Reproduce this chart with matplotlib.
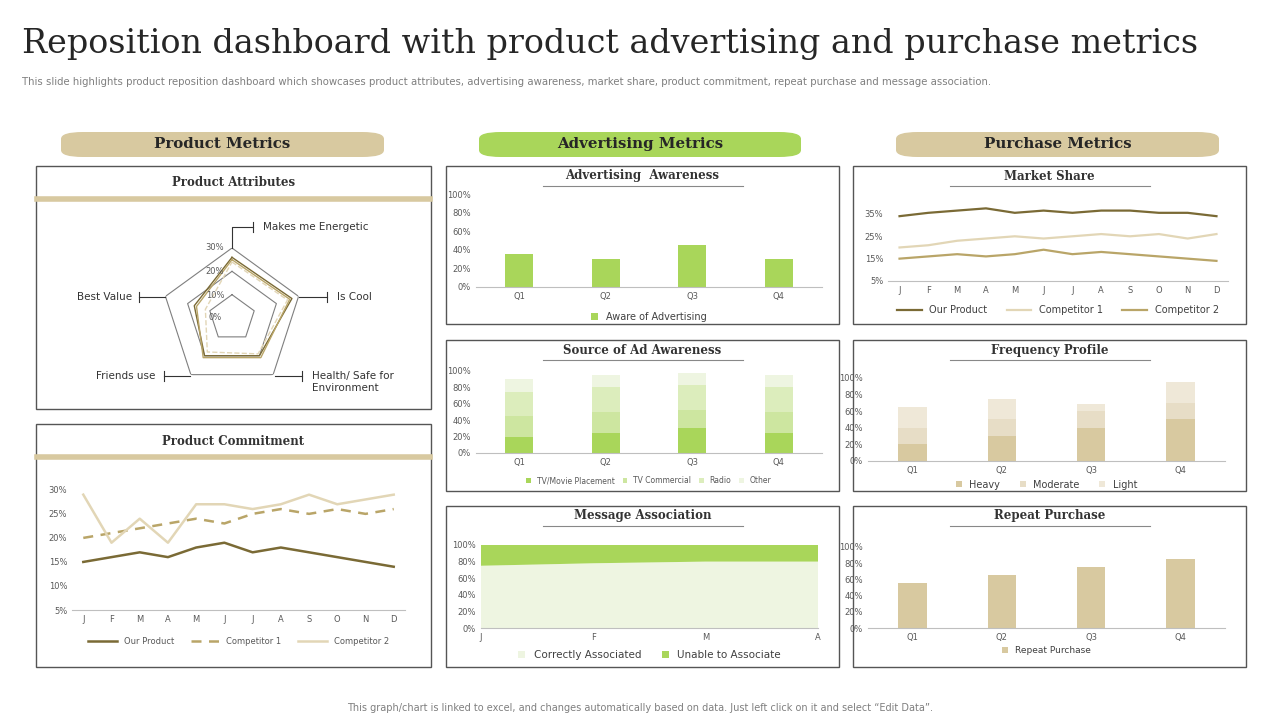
import numpy as np
import matplotlib.pyplot as plt
from matplotlib.patches import FancyBboxPatch, Rectangle

W, H = 1280, 720

months = ['J', 'F', 'M', 'A', 'M', 'J', 'J', 'A', 'S', 'O', 'N', 'D']
quarters = ['Q1', 'Q2', 'Q3', 'Q4']

attr_labels = ['Makes me Energetic', 'Is Cool', 'Health/ Safe for\nEnvironment', 'Friends use', 'Best Value']
attr_a = [26, 27, 20, 20, 17]
attr_b = [25, 26, 21, 21, 16]
attr_c = [24, 25, 19, 18, 12]

commit_our = [15, 16, 17, 16, 18, 19, 17, 18, 17, 16, 15, 14]
commit_c1 = [20, 21, 22, 23, 24, 23, 25, 26, 25, 26, 25, 26]
commit_c2 = [29, 19, 24, 19, 27, 27, 26, 27, 29, 27, 28, 29]

aware = [35, 30, 45, 30]

src_tv_movie = [20, 25, 30, 25]
src_tv_comm = [25, 25, 23, 25]
src_radio = [30, 30, 30, 30]
src_other = [15, 15, 15, 15]

msg_months = ['J', 'F', 'M', 'A']
msg_correct = [75, 78, 80, 80]
msg_unable = [25, 22, 20, 20]

share_our = [34, 35.5, 36.5, 37.5, 35.5, 36.5, 35.5, 36.5, 36.5, 35.5, 35.5, 34]
share_c1 = [20, 21, 23, 24, 25, 24, 25, 26, 25, 26, 24, 26]
share_c2 = [15, 16, 17, 16, 17, 19, 17, 18, 17, 16, 15, 14]

freq_heavy = [20, 30, 40, 50]
freq_moderate = [20, 20, 20, 20]
freq_light = [25, 25, 9, 25]

repeat = [55, 65, 75, 85]

GREEN = '#a9d65a'
TAN = '#d8c9a0'
DARK = '#7a6a35'
LIGHTTAN = '#e2d6b6'
MIDTAN = '#b9a568'
GRAY = '#595959'

fig = plt.figure(figsize=(12.8, 7.2), dpi=100)


def rect(x0, y0, x1, y1):
    return [x0 / W, 1 - y1 / H, (x1 - x0) / W, (y1 - y0) / H]


def fx(x):
    return x / W


def fy(y):
    return 1 - y / H


def panel(x0, y0, x1, y1, title, bar=False):
    fig.patches.append(Rectangle((fx(x0), fy(y1)), fx(x1 - x0), (y1 - y0) / H,
                                 transform=fig.transFigure, fill=False, ec='#555555', lw=1))
    cx = (x0 + x1) / 2
    if bar:
        fig.text(fx(cx), fy(y0 + 17), title, ha='center', va='center',
                 fontsize=8.5, family='DejaVu Serif', weight='bold', color='#333333')
        fig.add_artist(plt.Line2D([fx(x0 + 1), fx(x1 - 1)], [fy(y0 + 33)] * 2, color=TAN, lw=4))
    else:
        fig.text(fx(cx), fy(y0 + 10), title, ha='center', va='center',
                 fontsize=8.5, family='DejaVu Serif', weight='bold', color='#333333')
        fig.add_artist(plt.Line2D([fx(cx - 100), fx(cx + 100)], [fy(y0 + 20)] * 2, color='#888888', lw=0.8))


def style(ax, fs=6.5):
    for s in ['top', 'right', 'left']:
        ax.spines[s].set_visible(False)
    ax.spines['bottom'].set_color('#bfbfbf')
    ax.tick_params(length=0, labelsize=fs, colors=GRAY)
    ax.patch.set_alpha(0)


def pct(ax, ticks):
    ax.set_yticks(ticks)
    ax.set_yticklabels([f'{t}%' for t in ticks])


# header
fig.text(fx(22), fy(44), 'Reposition dashboard with product advertising and purchase metrics',
         fontsize=24, family='DejaVu Serif', color='#262626', va='center')
fig.text(fx(22), fy(82), 'This slide highlights product reposition dashboard which showcases product attributes, '
         'advertising awareness, market share, product commitment, repeat purchase and message association.',
         fontsize=7.3, color='#7f7f7f', va='center')
fig.text(0.5, fy(708), 'This graph/chart is linked to excel, and changes automatically based on data. '
         'Just left click on it and select \u201cEdit Data\u201d.', fontsize=7, color='#7f7f7f', ha='center', va='center')

for x0, x1, lab, col in [(61, 384, 'Product Metrics', TAN), (479, 801, 'Advertising Metrics', GREEN),
                         (896, 1219, 'Purchase Metrics', TAN)]:
    fig.patches.append(FancyBboxPatch((fx(x0), fy(157)), fx(x1 - x0), 25 / H,
                                      boxstyle='round,pad=0,rounding_size=0.017', transform=fig.transFigure,
                                      fc=col, ec='none', mutation_aspect=H / W * 1.0))
    fig.text(fx((x0 + x1) / 2), fy(144), lab, ha='center', va='center', fontsize=10.8,
             family='DejaVu Serif', weight='bold', color='#262626')

# Product Attributes (radar)
panel(36, 166, 431, 409, 'Product Attributes', bar=True)
ax = fig.add_axes(rect(162, 248, 302, 388), projection='polar')
n = len(attr_labels)
ang = np.pi / 2 - np.arange(n) * 2 * np.pi / n
angc = np.append(ang, ang[0])
for r in [10, 20, 30]:
    ax.plot(angc, [r] * (n + 1), color='#7f7f7f', lw=0.8)
for vals, c, ls in [(attr_a, DARK, '-'), (attr_b, MIDTAN, '-'), (attr_c, LIGHTTAN, '--')]:
    ax.plot(angc, vals + vals[:1], color=c, lw=1, ls=ls)
ax.set_ylim(0, 30)
ax.grid(False)
ax.spines['polar'].set_visible(False)
ax.set_xticks([])
ax.set_yticks([])
ax.patch.set_alpha(0)
for r, lab_y in zip([0, 10, 20, 30], [318, 296, 271, 248]):
    fig.text(fx(215), fy(lab_y), f'{r}%', fontsize=6, color=GRAY, ha='center', va='center')
# spoke labels with brackets
lab_pos = [((232, 248), (232, 227), (253, 227), 263, 'left'),
           ((299, 297), (299, 297), (327, 297), 337, 'left'),
           ((275, 376), (275, 376), (302, 376), 312, 'left'),
           ((190, 376), (190, 376), (164, 376), 155, 'right'),
           ((165, 297), (165, 297), (139, 297), 132, 'right')]
for i, (p0, p1, p2, tx, ha) in enumerate(lab_pos):
    fig.add_artist(plt.Line2D([fx(p0[0]), fx(p1[0]), fx(p2[0])], [fy(p0[1]), fy(p1[1]), fy(p2[1])],
                              color='#333333', lw=0.8))
    fig.add_artist(plt.Line2D([fx(p2[0])] * 2, [fy(p2[1] - 5), fy(p2[1] + 5)], color='#333333', lw=0.8))
    ty = p2[1] + (6 if '\n' in attr_labels[i] else 0)
    fig.text(fx(tx), fy(ty), attr_labels[i], fontsize=7.5, color='#333333', ha=ha, va='center')

# Product Commitment
panel(36, 424, 431, 667, 'Product Commitment', bar=True)
ax = fig.add_axes(rect(72, 486, 405, 610))
x = np.arange(len(months))
ax.plot(x, commit_our, color=DARK, lw=1.8, label='Our Product')
ax.plot(x, commit_c1, color=MIDTAN, lw=1.8, ls=(0, (4, 3)), label='Competitor 1')
ax.plot(x, commit_c2, color=LIGHTTAN, lw=1.8, label='Competitor 2')
ax.set_xticks(x)
ax.set_xticklabels(months)
ax.set_ylim(5, 30.8)
ax.set_xlim(-0.4, 11.4)
pct(ax, [5, 10, 15, 20, 25, 30])
style(ax, 6)
ax.legend(loc='upper center', bbox_to_anchor=(0.5, -0.16), ncol=3, frameon=False, fontsize=6,
          labelcolor=GRAY, handlelength=3.5)

# Advertising Awareness
panel(446, 166, 839, 324, 'Advertising  Awareness')
ax = fig.add_axes(rect(476, 194, 822, 287))
q = np.arange(4)
ax.bar(q, aware, width=0.32, color=GREEN, label='Aware of Advertising')
ax.set_ylim(0, 100)
ax.set_xlim(-0.5, 3.5)
pct(ax, [0, 20, 40, 60, 80, 100])
ax.set_xticks(q)
ax.set_xticklabels(quarters)
style(ax, 6)
ax.legend(loc='upper center', bbox_to_anchor=(0.5, -0.17), frameon=False, fontsize=7, labelcolor='#404040',
          handlelength=0.7, handleheight=0.7)

# Source of Ad Awareness
panel(446, 340, 839, 491, 'Source of Ad Awareness')
ax = fig.add_axes(rect(476, 371, 822, 453))
bottom = np.zeros(4)
for vals, c, lab in [(src_tv_movie, GREEN, 'TV/Movie Placement'), (src_tv_comm, '#cde6a0', 'TV Commercial'),
                     (src_radio, '#dcedbc', 'Radio'), (src_other, '#eef5e1', 'Other')]:
    ax.bar(q, vals, bottom=bottom, width=0.32, color=c, label=lab)
    bottom += vals
ax.set_ylim(0, 100)
ax.set_xlim(-0.5, 3.5)
pct(ax, [0, 20, 40, 60, 80, 100])
ax.set_xticks(q)
ax.set_xticklabels(quarters)
style(ax, 6)
ax.legend(loc='upper center', bbox_to_anchor=(0.5, -0.2), ncol=4, frameon=False, fontsize=5.5,
          labelcolor=GRAY, handlelength=0.6, handleheight=0.6, columnspacing=1)

# Message Association
panel(446, 506, 839, 667, 'Message Association')
ax = fig.add_axes(rect(481, 545, 818, 628))
xm = np.arange(len(msg_months))
ax.stackplot(xm, msg_correct, msg_unable, colors=['#eef5e1', GREEN],
             labels=['Correctly Associated', 'Unable to Associate'])
ax.set_ylim(0, 100)
ax.set_xlim(0, 3)
pct(ax, [0, 20, 40, 60, 80, 100])
ax.set_xticks(xm)
ax.set_xticklabels(msg_months)
style(ax, 6)
ax.legend(loc='upper center', bbox_to_anchor=(0.5, -0.15), ncol=2, frameon=False, fontsize=7.5,
          labelcolor='#404040', handlelength=0.7, handleheight=0.7)

# Market Share
panel(853, 166, 1246, 324, 'Market Share')
ax = fig.add_axes(rect(888, 205, 1228, 281))
ax.plot(x, share_our, color=DARK, lw=1.6, label='Our Product')
ax.plot(x, share_c1, color=LIGHTTAN, lw=1.6, label='Competitor 1')
ax.plot(x, share_c2, color=MIDTAN, lw=1.6, label='Competitor 2')
ax.set_ylim(5, 39)
ax.set_xlim(-0.4, 11.4)
pct(ax, [5, 15, 25, 35])
ax.set_xticks(x)
ax.set_xticklabels(months)
style(ax, 6)
ax.legend(loc='upper center', bbox_to_anchor=(0.5, -0.2), ncol=3, frameon=False, fontsize=7,
          labelcolor='#404040', handlelength=2.5)

# Frequency Profile
panel(853, 340, 1246, 491, 'Frequency Profile')
ax = fig.add_axes(rect(868, 378, 1225, 461))
bottom = np.zeros(4)
for vals, c, lab in [(freq_heavy, TAN, 'Heavy'), (freq_moderate, '#e7ddc6', 'Moderate'),
                     (freq_light, '#efe8d8', 'Light')]:
    ax.bar(q, vals, bottom=bottom, width=0.32, color=c, label=lab)
    bottom += vals
ax.set_ylim(0, 100)
ax.set_xlim(-0.5, 3.5)
pct(ax, [0, 20, 40, 60, 80, 100])
ax.set_xticks(q)
ax.set_xticklabels(quarters)
style(ax, 6)
ax.legend(loc='upper center', bbox_to_anchor=(0.5, -0.12), ncol=3, frameon=False, fontsize=7,
          labelcolor='#404040', handlelength=0.6, handleheight=0.6)

# Repeat Purchase
panel(853, 506, 1246, 667, 'Repeat Purchase')
ax = fig.add_axes(rect(868, 547, 1225, 628))
ax.bar(q, repeat, width=0.32, color=TAN, label='Repeat Purchase')
ax.set_ylim(0, 100)
ax.set_xlim(-0.5, 3.5)
pct(ax, [0, 20, 40, 60, 80, 100])
ax.set_xticks(q)
ax.set_xticklabels(quarters)
style(ax, 6)
ax.legend(loc='upper center', bbox_to_anchor=(0.5, -0.12), frameon=False, fontsize=6.5,
          labelcolor='#404040', handlelength=0.6, handleheight=0.6)

fig.savefig('out.png', dpi=100)
